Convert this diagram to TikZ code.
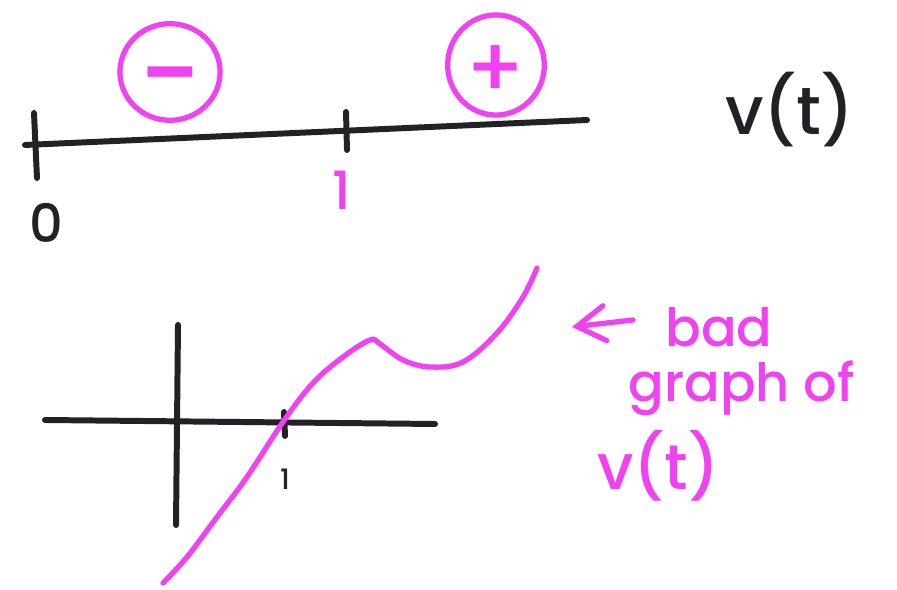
\documentclass[tikz,border=0pt]{standalone}
\usepackage{fontspec}
\setmainfont{Poppins}
\newfontfamily\penfont{Poppins Medium}
\usetikzlibrary{arrows.meta, shapes.geometric}
\definecolor{penpink}{RGB}{240,66,240}
\definecolor{penblack}{RGB}{34,34,38}

\begin{document}
\begin{tikzpicture}[
    x=0.02cm, y=-0.02cm,
    ink/.style={penblack, line width=3.4pt, line cap=round},
    pinkink/.style={penpink, line width=3pt, line cap=round, line join=round},
    ring/.style={ellipse, draw=penpink, line width=3pt, inner sep=0pt},
    hand/.style={inner sep=0pt, font=\fontsize{30}{30}\selectfont\penfont},
]
    \useasboundingbox[fill=white] (0,0) rectangle (897,590);

    % Number line for v(t)
    \coordinate (lineL) at (25,145);
    \coordinate (lineR) at (587,120);
    \draw[ink] (lineL) -- (lineR);
    \draw[ink] (34,113) -- (37,178);
    \draw[ink] (346,112) -- (347,150);
    \node[hand, text=penblack, anchor=base] (zero) at (46,243) {0};
    \node[hand, text=penpink, anchor=base] (one) at (342,210) {1};

    % Sign of v(t) on each side
    \node[ring, minimum width=57pt, minimum height=55pt] (minusring) at (170,72) {};
    \node[hand, text=penpink, font=\fontsize{62}{62}\selectfont\penfont, yshift=-9.5pt] (minus) at (minusring.center) {−};
    \node[ring, minimum width=55pt, minimum height=57pt] (plusring) at (496,65) {};
    \node[hand, text=penpink, font=\fontsize{48}{48}\selectfont\penfont, yshift=-3.5pt] (plus) at (plusring.center) {+};

    \node[hand, text=penblack, anchor=west, font=\fontsize{38}{38}\selectfont\penfont] (vt) at (725,110) {v(t)};

    % Axes of the lower sketch
    \coordinate (axL) at (45,420);
    \coordinate (axR) at (435,424);
    \coordinate (axT) at (178,325);
    \coordinate (axB) at (176,525);
    \draw[ink] (axL) -- (axR);
    \draw[ink] (axT) -- (axB);
    \draw[ink] (284,412) -- (285,436);
    \node[hand, text=penblack, anchor=base, font=\fontsize{16}{16}\selectfont\penfont] (onelow) at (285,490) {1};

    % Bad graph of v(t)
    \draw[pinkink] plot[smooth, tension=0.6] coordinates{
        (163,583) (187,557) (217,517) (247,477) (283,422) (313,383)
        (343,357) (370,340) (380,344) (403,360) (430,367) (463,362)
        (497,333) (523,297) (537,268)
    };

    % Note on the right
    \node[hand, text=penpink, anchor=base west] (bad) at (665,347) {bad};
    \node[hand, text=penpink, anchor=base west] (graphof) at (628,402) {graph of};
    \node[hand, text=penpink, anchor=base west, font=\fontsize{36}{36}\selectfont\penfont] (vtpink) at (597,490) {v(t)};
    \coordinate (arrowtail) at (633,320);
    \coordinate (arrowtip) at (572,327);
    \draw[pinkink, -{Straight Barb[length=16pt, width=20pt, line cap=round]}] (arrowtail) -- (arrowtip);
\end{tikzpicture}
\end{document}
